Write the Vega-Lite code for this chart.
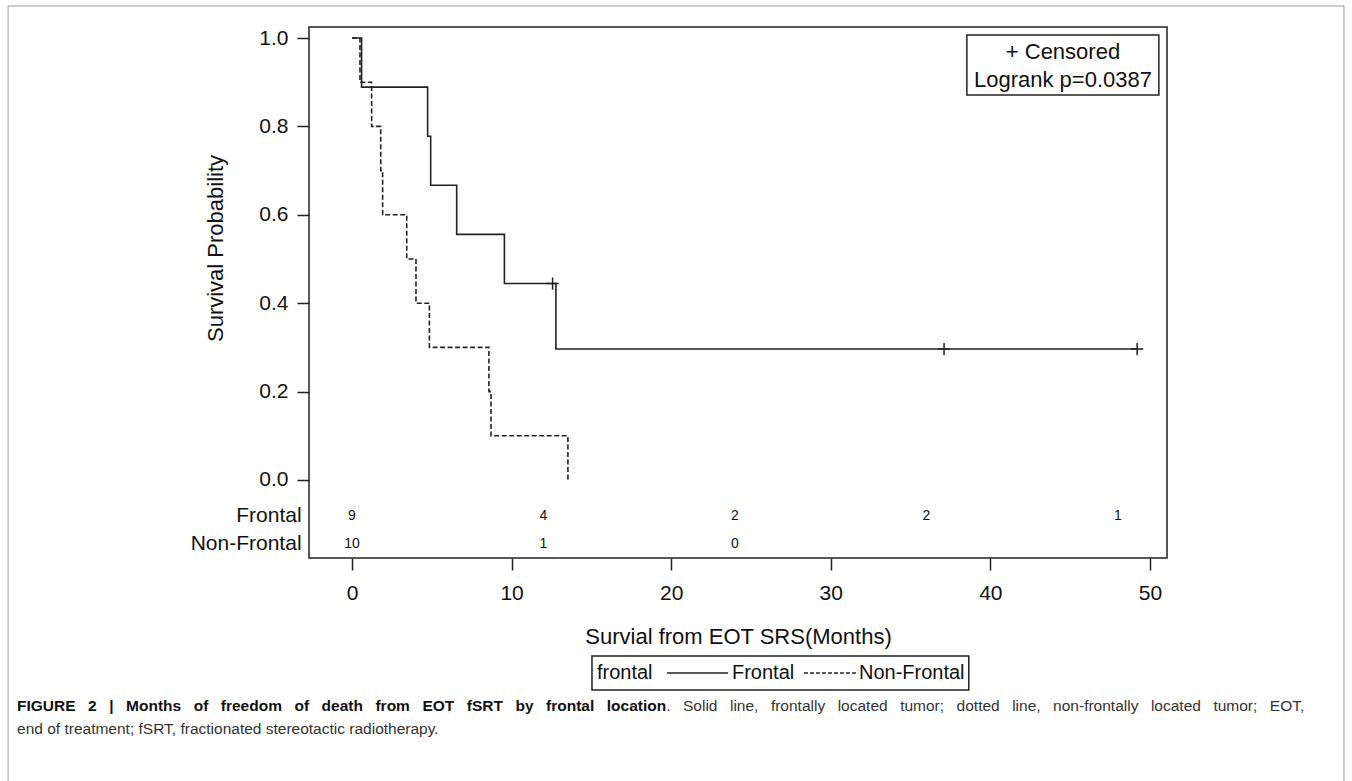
{
  "$schema": "https://vega.github.io/schema/vega-lite/v6.json",
  "width": 858,
  "height": 531,
  "autosize": {"type": "none"},
  "padding": {"left": 309, "top": 27, "right": 185, "bottom": 223},
  "background": "white",
  "config": {
    "font": "Liberation Sans",
    "view": {"stroke": "#222", "strokeWidth": 1.5},
    "axis": {
      "grid": false, "domain": false, "tickColor": "#222", "tickWidth": 1.5, "tickSize": 12,
      "labelColor": "#111", "labelFontSize": 21, "titleFontSize": 22, "titleFontWeight": "normal",
      "titleColor": "#111", "labelFont": "Liberation Sans", "titleFont": "Liberation Sans"
    },
    "text": {"font": "Liberation Sans", "color": "#111"}
  },
  "data": {"values": [{"item": "annotation"}]},
  "datasets": {
    "curves": [
      {"group": "Frontal", "t": 0, "s": 1},
      {"group": "Frontal", "t": 0.6, "s": 0.8889},
      {"group": "Frontal", "t": 4.74, "s": 0.7778},
      {"group": "Frontal", "t": 4.93, "s": 0.6667},
      {"group": "Frontal", "t": 6.56, "s": 0.5556},
      {"group": "Frontal", "t": 9.55, "s": 0.4444},
      {"group": "Frontal", "t": 12.78, "s": 0.2963},
      {"group": "Frontal", "t": 49.2, "s": 0.2963},
      {"group": "Non-Frontal", "t": 0, "s": 1},
      {"group": "Non-Frontal", "t": 0.5, "s": 0.9},
      {"group": "Non-Frontal", "t": 1.23, "s": 0.8},
      {"group": "Non-Frontal", "t": 1.8, "s": 0.7},
      {"group": "Non-Frontal", "t": 1.92, "s": 0.6},
      {"group": "Non-Frontal", "t": 3.43, "s": 0.5},
      {"group": "Non-Frontal", "t": 4.01, "s": 0.4},
      {"group": "Non-Frontal", "t": 4.85, "s": 0.3},
      {"group": "Non-Frontal", "t": 8.58, "s": 0.2},
      {"group": "Non-Frontal", "t": 8.71, "s": 0.1},
      {"group": "Non-Frontal", "t": 13.53, "s": 0}
    ],
    "censors": [
      {"group": "Frontal", "t": 12.57, "s": 0.4444},
      {"group": "Frontal", "t": 37.1, "s": 0.2963},
      {"group": "Frontal", "t": 49.2, "s": 0.2963}
    ],
    "risk": [
      {"row": "Frontal", "t": 0, "n": 9},
      {"row": "Frontal", "t": 12, "n": 4},
      {"row": "Frontal", "t": 24, "n": 2},
      {"row": "Frontal", "t": 36, "n": 2},
      {"row": "Frontal", "t": 48, "n": 1},
      {"row": "Non-Frontal", "t": 0, "n": 10},
      {"row": "Non-Frontal", "t": 12, "n": 1},
      {"row": "Non-Frontal", "t": 24, "n": 0}
    ]
  },
  "layer": [
    {
      "data": {"name": "curves"},
      "mark": {"type": "line", "interpolate": "step-after", "color": "#222", "strokeWidth": 1.6},
      "encoding": {
        "x": {"field": "t", "type": "quantitative",
              "scale": {"domain": [-2.694, 51.07], "nice": false, "zero": false},
              "axis": {"values": [0, 10, 20, 30, 40, 50], "title": "Survial from EOT SRS(Months)", "labelPadding": 12, "titlePadding": 23}},
        "y": {"field": "s", "type": "quantitative",
              "scale": {"domain": [-0.1765, 1.0249], "nice": false, "zero": false},
              "axis": {"values": [0, 0.2, 0.4, 0.6, 0.8, 1.0], "format": ".1f", "title": "Survival Probability", "labelPadding": 9, "titleX": -94, "titleY": 221, "titleBaseline": "middle"}},
        "strokeDash": {"field": "group", "type": "nominal",
              "scale": {"domain": ["Frontal", "Non-Frontal"], "range": [[1, 0], [5, 2.5]]},
              "legend": null}
      }
    },
    {
      "data": {"name": "censors"},
      "mark": {"type": "point", "shape": "M0,-1V1M-1,0H1", "size": 150, "filled": false, "color": "#222", "strokeWidth": 1.5, "opacity": 1},
      "encoding": {
        "x": {"field": "t", "type": "quantitative"},
        "y": {"field": "s", "type": "quantitative"}
      }
    },
    {
      "data": {"name": "risk"},
      "transform": [{"filter": "datum.row === 'Frontal'"}],
      "mark": {"type": "text", "fontSize": 14},
      "encoding": {
        "x": {"field": "t", "type": "quantitative"},
        "y": {"datum": -0.0814, "type": "quantitative"},
        "text": {"field": "n"}
      }
    },
    {
      "data": {"name": "risk"},
      "transform": [{"filter": "datum.row === 'Non-Frontal'"}],
      "mark": {"type": "text", "fontSize": 14},
      "encoding": {
        "x": {"field": "t", "type": "quantitative"},
        "y": {"datum": -0.1448, "type": "quantitative"},
        "text": {"field": "n"}
      }
    },
    {"mark": {"type": "text", "fontSize": 21, "align": "right", "text": "Frontal"},
     "encoding": {"x": {"datum": -3.16, "type": "quantitative"}, "y": {"datum": -0.0814, "type": "quantitative"}}},
    {"mark": {"type": "text", "fontSize": 21, "align": "right", "text": "Non-Frontal"},
     "encoding": {"x": {"datum": -3.16, "type": "quantitative"}, "y": {"datum": -0.1448, "type": "quantitative"}}},
    {"mark": {"type": "rect", "fill": "white", "stroke": "#222", "strokeWidth": 1.5},
     "encoding": {"x": {"datum": 38.53, "type": "quantitative"}, "x2": {"datum": 50.56},
                  "y": {"datum": 1.0068, "type": "quantitative"}, "y2": {"datum": 0.871}}},
    {"mark": {"type": "text", "fontSize": 22, "text": "+ Censored"},
     "encoding": {"x": {"datum": 44.55, "type": "quantitative"}, "y": {"datum": 0.968, "type": "quantitative"}}},
    {"mark": {"type": "text", "fontSize": 22, "text": "Logrank p=0.0387"},
     "encoding": {"x": {"datum": 44.55, "type": "quantitative"}, "y": {"datum": 0.905, "type": "quantitative"}}},

    {"mark": {"type": "rect", "fill": "white", "stroke": "#222", "strokeWidth": 1.5},
     "encoding": {"x": {"datum": 15.038, "type": "quantitative"}, "x2": {"datum": 38.65},
                  "y": {"datum": -0.3982, "type": "quantitative"}, "y2": {"datum": -0.4751}}},
    {"mark": {"type": "text", "fontSize": 20, "align": "left", "text": "frontal"},
     "encoding": {"x": {"datum": 15.351, "type": "quantitative"}, "y": {"datum": -0.4367, "type": "quantitative"}}},
    {"mark": {"type": "rule", "color": "#222", "strokeWidth": 1.5},
     "encoding": {"x": {"datum": 19.74, "type": "quantitative"}, "x2": {"datum": 23.559}, "y": {"datum": -0.4367, "type": "quantitative"}}},
    {"mark": {"type": "text", "fontSize": 20, "align": "left", "text": "Frontal"},
     "encoding": {"x": {"datum": 23.81, "type": "quantitative"}, "y": {"datum": -0.4367, "type": "quantitative"}}},
    {"mark": {"type": "rule", "color": "#222", "strokeWidth": 1.5, "strokeDash": [4, 2]},
     "encoding": {"x": {"datum": 28.321, "type": "quantitative"}, "x2": {"datum": 31.579}, "y": {"datum": -0.4367, "type": "quantitative"}}},
    {"mark": {"type": "text", "fontSize": 20, "align": "left", "text": "Non-Frontal"},
     "encoding": {"x": {"datum": 31.767, "type": "quantitative"}, "y": {"datum": -0.4367, "type": "quantitative"}}},

    {"mark": {"type": "text", "fontSize": 15.5, "fontWeight": "bold", "align": "left", "color": "#111", "text": "FIGURE"},
     "encoding": {"x": {"datum": -20.99, "type": "quantitative"}, "y": {"datum": -0.511, "type": "quantitative"}}},
    {"mark": {"type": "text", "fontSize": 15.5, "fontWeight": "bold", "align": "left", "color": "#111", "text": "2"},
     "encoding": {"x": {"datum": -16.537, "type": "quantitative"}, "y": {"datum": -0.511, "type": "quantitative"}}},
    {"mark": {"type": "text", "fontSize": 15.5, "fontWeight": "bold", "align": "left", "color": "#111", "text": "|"},
     "encoding": {"x": {"datum": -15.213, "type": "quantitative"}, "y": {"datum": -0.511, "type": "quantitative"}}},
    {"mark": {"type": "text", "fontSize": 15.5, "fontWeight": "bold", "align": "left", "color": "#111", "text": "Months"},
     "encoding": {"x": {"datum": -14.157, "type": "quantitative"}, "y": {"datum": -0.511, "type": "quantitative"}}},
    {"mark": {"type": "text", "fontSize": 15.5, "fontWeight": "bold", "align": "left", "color": "#111", "text": "of"},
     "encoding": {"x": {"datum": -9.921, "type": "quantitative"}, "y": {"datum": -0.511, "type": "quantitative"}}},
    {"mark": {"type": "text", "fontSize": 15.5, "fontWeight": "bold", "align": "left", "color": "#111", "text": "freedom"},
     "encoding": {"x": {"datum": -8.221, "type": "quantitative"}, "y": {"datum": -0.511, "type": "quantitative"}}},
    {"mark": {"type": "text", "fontSize": 15.5, "fontWeight": "bold", "align": "left", "color": "#111", "text": "of"},
     "encoding": {"x": {"datum": -3.605, "type": "quantitative"}, "y": {"datum": -0.511, "type": "quantitative"}}},
    {"mark": {"type": "text", "fontSize": 15.5, "fontWeight": "bold", "align": "left", "color": "#111", "text": "death"},
     "encoding": {"x": {"datum": -1.905, "type": "quantitative"}, "y": {"datum": -0.511, "type": "quantitative"}}},
    {"mark": {"type": "text", "fontSize": 15.5, "fontWeight": "bold", "align": "left", "color": "#111", "text": "from"},
     "encoding": {"x": {"datum": 1.469, "type": "quantitative"}, "y": {"datum": -0.511, "type": "quantitative"}}},
    {"mark": {"type": "text", "fontSize": 15.5, "fontWeight": "bold", "align": "left", "color": "#111", "text": "EOT"},
     "encoding": {"x": {"datum": 4.411, "type": "quantitative"}, "y": {"datum": -0.511, "type": "quantitative"}}},
    {"mark": {"type": "text", "fontSize": 15.5, "fontWeight": "bold", "align": "left", "color": "#111", "text": "fSRT"},
     "encoding": {"x": {"datum": 7.192, "type": "quantitative"}, "y": {"datum": -0.511, "type": "quantitative"}}},
    {"mark": {"type": "text", "fontSize": 15.5, "fontWeight": "bold", "align": "left", "color": "#111", "text": "by"},
     "encoding": {"x": {"datum": 10.241, "type": "quantitative"}, "y": {"datum": -0.511, "type": "quantitative"}}},
    {"mark": {"type": "text", "fontSize": 15.5, "fontWeight": "bold", "align": "left", "color": "#111", "text": "frontal"},
     "encoding": {"x": {"datum": 12.159, "type": "quantitative"}, "y": {"datum": -0.511, "type": "quantitative"}}},
    {"mark": {"type": "text", "fontSize": 15.5, "fontWeight": "bold", "align": "left", "color": "#111", "text": "location"},
     "encoding": {"x": {"datum": 15.964, "type": "quantitative"}, "y": {"datum": -0.511, "type": "quantitative"}}},
    {"mark": {"type": "text", "fontSize": 15.5, "align": "left", "color": "#333", "text": "."},
     "encoding": {"x": {"datum": 19.687, "type": "quantitative"}, "y": {"datum": -0.511, "type": "quantitative"}}},
    {"mark": {"type": "text", "fontSize": 15.5, "align": "left", "color": "#333", "text": "Solid"},
     "encoding": {"x": {"datum": 20.741, "type": "quantitative"}, "y": {"datum": -0.511, "type": "quantitative"}}},
    {"mark": {"type": "text", "fontSize": 15.5, "align": "left", "color": "#333", "text": "line,"},
     "encoding": {"x": {"datum": 23.684, "type": "quantitative"}, "y": {"datum": -0.511, "type": "quantitative"}}},
    {"mark": {"type": "text", "fontSize": 15.5, "align": "left", "color": "#333", "text": "frontally"},
     "encoding": {"x": {"datum": 26.249, "type": "quantitative"}, "y": {"datum": -0.511, "type": "quantitative"}}},
    {"mark": {"type": "text", "fontSize": 15.5, "align": "left", "color": "#333", "text": "located"},
     "encoding": {"x": {"datum": 30.434, "type": "quantitative"}, "y": {"datum": -0.511, "type": "quantitative"}}},
    {"mark": {"type": "text", "fontSize": 15.5, "align": "left", "color": "#333", "text": "tumor;"},
     "encoding": {"x": {"datum": 34.348, "type": "quantitative"}, "y": {"datum": -0.511, "type": "quantitative"}}},
    {"mark": {"type": "text", "fontSize": 15.5, "align": "left", "color": "#333", "text": "dotted"},
     "encoding": {"x": {"datum": 37.885, "type": "quantitative"}, "y": {"datum": -0.511, "type": "quantitative"}}},
    {"mark": {"type": "text", "fontSize": 15.5, "align": "left", "color": "#333", "text": "line,"},
     "encoding": {"x": {"datum": 41.368, "type": "quantitative"}, "y": {"datum": -0.511, "type": "quantitative"}}},
    {"mark": {"type": "text", "fontSize": 15.5, "align": "left", "color": "#333", "text": "non-frontally"},
     "encoding": {"x": {"datum": 43.934, "type": "quantitative"}, "y": {"datum": -0.511, "type": "quantitative"}}},
    {"mark": {"type": "text", "fontSize": 15.5, "align": "left", "color": "#333", "text": "located"},
     "encoding": {"x": {"datum": 50.061, "type": "quantitative"}, "y": {"datum": -0.511, "type": "quantitative"}}},
    {"mark": {"type": "text", "fontSize": 15.5, "align": "left", "color": "#333", "text": "tumor;"},
     "encoding": {"x": {"datum": 53.976, "type": "quantitative"}, "y": {"datum": -0.511, "type": "quantitative"}}},
    {"mark": {"type": "text", "fontSize": 15.5, "align": "left", "color": "#333", "text": "EOT,"},
     "encoding": {"x": {"datum": 57.512, "type": "quantitative"}, "y": {"datum": -0.511, "type": "quantitative"}}},
    {"mark": {"type": "text", "fontSize": 15.5, "align": "left", "color": "#333", "text": "end of treatment; fSRT, fractionated stereotactic radiotherapy."},
     "encoding": {"x": {"datum": -20.99, "type": "quantitative"}, "y": {"datum": -0.5633, "type": "quantitative"}}},

    {"mark": {"type": "rect", "fill": "transparent", "stroke": "#999", "strokeWidth": 1},
     "encoding": {"x": {"datum": -21.55, "type": "quantitative"}, "x2": {"datum": 62.16},
                  "y": {"datum": 1.0724, "type": "quantitative"}, "y2": {"datum": -0.7014}}}
  ]
}
